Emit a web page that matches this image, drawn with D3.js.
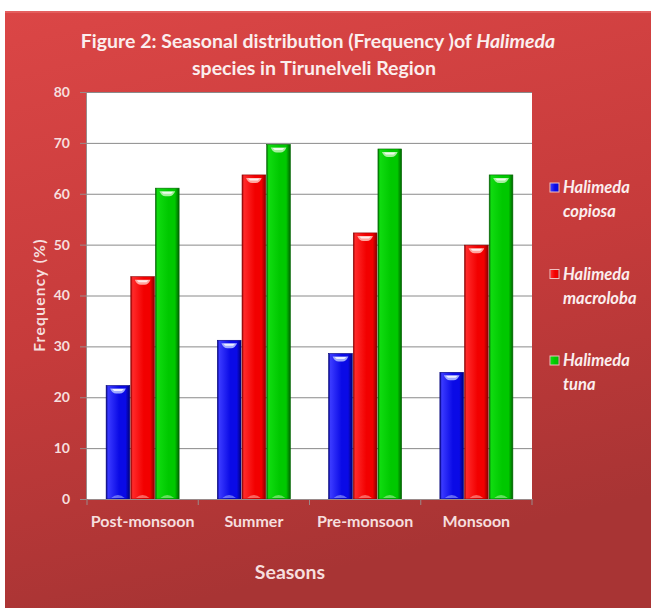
<!DOCTYPE html>
<html>
<head>
<meta charset="utf-8">
<script src="https://cdn.jsdelivr.net/npm/d3@7"></script>
<style>
  html, body { margin: 0; padding: 0; background: #ffffff; }
  svg { display: block; }
  text { font-family: Lato, "Open Sans", sans-serif; }
</style>
</head>
<body>
<svg id="chart" width="651" height="610"></svg>
<script>
// Seasonal frequency (%) of three Halimeda species
const seasons = ["Post-monsoon", "Summer", "Pre-monsoon", "Monsoon"];
const speciesNames = ["Halimeda copiosa", "Halimeda macroloba", "Halimeda tuna"];
const copiosa = [22.3, 31.2, 28.6, 24.9];
const macroloba = [43.7, 63.7, 52.3, 49.9];
const tuna = [61.1, 69.7, 68.8, 63.7];
const yTicks = [0, 10, 20, 30, 40, 50, 60, 70, 80];

const seriesValues = [copiosa, macroloba, tuna];
const palette = [
  { main: "#0a0ae6", light: "#3a3aff", dark: "#00007a", cap: "#a8b4ff" },
  { main: "#f20000", light: "#ff2a2a", dark: "#8a0000", cap: "#ffb0a8" },
  { main: "#00c800", light: "#10dc10", dark: "#006400", cap: "#b0f0a8" }
];

const svg = d3.select("#chart");
const W = 651, H = 610;
const plot = { left: 87, right: 532, top: 92, bottom: 499 };

const defs = svg.append("defs");
const bg = defs.append("linearGradient").attr("id", "panelBg")
  .attr("x1", 0).attr("y1", 0).attr("x2", 0.25).attr("y2", 1);
bg.append("stop").attr("offset", "0%").attr("stop-color", "#db4646");
bg.append("stop").attr("offset", "55%").attr("stop-color", "#c63b3b");
bg.append("stop").attr("offset", "100%").attr("stop-color", "#a83434");

palette.forEach((p, i) => {
  const g = defs.append("linearGradient").attr("id", "bar" + i)
    .attr("x1", 0).attr("y1", 0).attr("x2", 1).attr("y2", 0);
  g.append("stop").attr("offset", "0%").attr("stop-color", p.dark);
  g.append("stop").attr("offset", "8%").attr("stop-color", p.light);
  g.append("stop").attr("offset", "55%").attr("stop-color", p.main);
  g.append("stop").attr("offset", "82%").attr("stop-color", p.main);
  g.append("stop").attr("offset", "100%").attr("stop-color", p.dark);
});

// panel
svg.append("rect").attr("x", 5).attr("y", 11).attr("width", W - 5).attr("height", H - 13)
  .attr("fill", "url(#panelBg)");
svg.append("rect").attr("x", 5).attr("y", 11).attr("width", W - 5).attr("height", 2)
  .attr("fill", "#e86a6a").attr("opacity", 0.7);

// plot area
svg.append("rect").attr("x", plot.left).attr("y", plot.top)
  .attr("width", plot.right - plot.left).attr("height", plot.bottom - plot.top)
  .attr("fill", "#ffffff");

const y = d3.scaleLinear().domain([0, 80]).range([plot.bottom, plot.top]);
const x0 = d3.scaleBand().domain(seasons).range([plot.left, plot.right]);
const x1 = d3.scaleBand().domain(speciesNames).range([-36.5, 36.5]).paddingInner(0.04);

// gridlines
svg.append("g")
  .attr("transform", `translate(${plot.left},0)`)
  .call(d3.axisLeft(y).tickValues(yTicks.slice(1)).tickSize(-(plot.right - plot.left)).tickFormat(""))
  .call(g => g.select(".domain").remove())
  .call(g => g.selectAll("line").attr("stroke", "#8a8a8a").attr("stroke-width", 1));

// bars
const labelColor = "#f6dede";
speciesNames.forEach((name, si) => {
  const gs = svg.append("g");
  const data = seasons.map((s, ci) => ({ season: s, value: seriesValues[si][ci] }));
  const bw = x1.bandwidth();
  const bx = d => x0(d.season) + x0.bandwidth() / 2 + x1(name);
  gs.selectAll("rect.bar").data(data).join("rect")
    .attr("class", "bar")
    .attr("x", bx)
    .attr("y", d => y(d.value))
    .attr("width", bw)
    .attr("height", d => y(0) - y(d.value))
    .attr("fill", `url(#bar${si})`)
    .attr("stroke", palette[si].dark).attr("stroke-width", 0.6);
  // top highlight cap
  gs.selectAll("path.cap").data(data).join("path")
    .attr("class", "cap")
    .attr("d", d => {
      const x = bx(d) + 4, w = bw - 8, t = y(d.value) + 3;
      return `M${x},${t} L${x + w},${t} Q${x + w - 2},${t + 5} ${x + w - 6},${t + 5} L${x + 6},${t + 5} Q${x + 2},${t + 5} ${x},${t} Z`;
    })
    .attr("fill", palette[si].cap).attr("opacity", 0.95);
  gs.selectAll("path.hl").data(data).join("path")
    .attr("class", "hl")
    .attr("d", d => {
      const x = bx(d) + 6, w = bw - 12, t = y(d.value) + 3.5;
      return `M${x},${t} L${x + w},${t} L${x + w - 2},${t + 2} L${x + 2},${t + 2} Z`;
    })
    .attr("fill", "#ffffff").attr("opacity", 0.8);
  // base glint
  gs.selectAll("path.base").data(data).join("path")
    .attr("class", "base")
    .attr("d", d => {
      const x = bx(d) + 5, w = bw - 10, b = y(0) - 1;
      return `M${x},${b} Q${x + w / 2},${b - 6} ${x + w},${b} Z`;
    })
    .attr("fill", palette[si].cap).attr("opacity", 0.55);
});

// y axis
svg.append("g")
  .attr("transform", `translate(${plot.left - 1},0)`)
  .call(d3.axisLeft(y).tickValues(yTicks).tickSize(6).tickPadding(10))
  .call(g => g.select(".domain").attr("stroke", "#9a8a8a"))
  .call(g => g.selectAll(".tick line").attr("stroke", "#9a8a8a"))
  .call(g => g.selectAll("text").attr("fill", labelColor)
    .attr("font-size", 14).attr("font-weight", "bold")
    .style("font-family", "Lato, sans-serif"));

// x axis: labels centered in bands, ticks on boundaries
const xAxis = svg.append("g").attr("transform", `translate(0,${plot.bottom})`);
xAxis.call(d3.axisBottom(x0).tickSize(0).tickPadding(17))
  .call(g => g.select(".domain").attr("stroke", "#9a8a8a"))
  .call(g => g.selectAll("text").attr("fill", labelColor)
    .attr("font-size", 16).attr("font-weight", "bold")
    .style("font-family", "Lato, sans-serif"));
xAxis.selectAll("line.bnd")
  .data(seasons.map(s => x0(s)).concat([x0.range()[1]]))
  .join("line").attr("class", "bnd")
  .attr("x1", d => d).attr("x2", d => d).attr("y1", 0).attr("y2", 6)
  .attr("stroke", "#9a8a8a");

// axis titles
svg.append("text").attr("x", 290).attr("y", 579).attr("text-anchor", "middle")
  .attr("fill", labelColor).attr("font-size", 19.5).attr("font-weight", "bold")
  .text("Seasons");
svg.append("text").attr("transform", "translate(45,295) rotate(-90)")
  .attr("text-anchor", "middle").attr("fill", labelColor)
  .attr("font-size", 15.5).attr("font-weight", "bold")
  .attr("letter-spacing", 1.3)
  .text("Frequency (%)");

// title
const title = svg.append("text").attr("text-anchor", "middle")
  .attr("fill", "#fbeeee").attr("font-size", 19.5).attr("font-weight", "bold");
const t1 = title.append("tspan").attr("x", 318).attr("y", 48);
t1.append("tspan").text("Figure 2: Seasonal distribution (Frequency )of ");
t1.append("tspan").attr("font-style", "italic").text("Halimeda");
title.append("tspan").attr("x", 314).attr("y", 75).text("species in Tirunelveli Region");

// legend
const legend = svg.append("g");
speciesNames.forEach((name, i) => {
  const ly = 187 + i * 86.5;
  const parts = name.split(" ");
  legend.append("rect").attr("x", 550).attr("y", ly - 4).attr("width", 9).attr("height", 9)
    .attr("fill", `url(#bar${i})`).attr("stroke", "#f0c0c0").attr("stroke-width", 1);
  legend.append("text").attr("x", 563).attr("y", ly + 6)
    .attr("fill", "#fbeeee").attr("font-size", 16.5).attr("font-weight", "bold")
    .attr("font-style", "italic").text(parts[0]);
  legend.append("text").attr("x", 563).attr("y", ly + 30)
    .attr("fill", "#fbeeee").attr("font-size", 16.5).attr("font-weight", "bold")
    .attr("font-style", "italic").text(parts[1]);
});
</script>
</body>
</html>
